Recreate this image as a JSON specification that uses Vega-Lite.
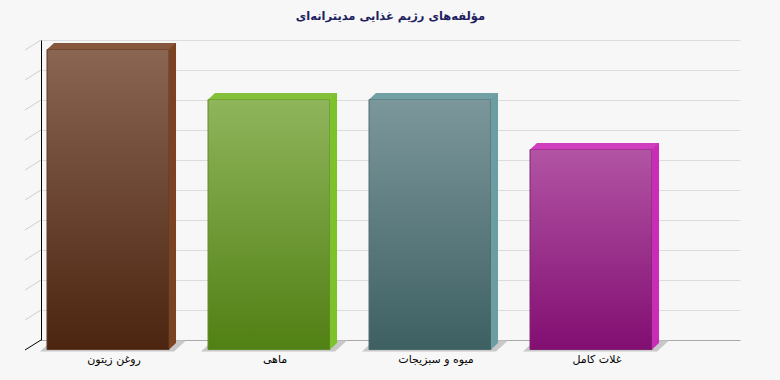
{
  "$schema": "https://vega.github.io/schema/vega-lite/v6.json",
  "width": 699,
  "height": 300,
  "autosize": {"type": "none"},
  "padding": {"left": 41, "top": 40, "right": 40, "bottom": 40},
  "background": "#f7f7f7",
  "config": {
    "view": {"stroke": null},
    "font": "DejaVu Sans",
    "axisY": {
      "grid": true,
      "gridColor": {"condition": {"test": "datum.value === 0", "value": "#a8a8a8"}, "value": "#dcdcdc"},
      "gridWidth": 1,
      "domain": true,
      "domainColor": "#000000",
      "domainWidth": 1,
      "ticks": false,
      "labels": false,
      "title": null
    }
  },
  "title": {
    "text": "مؤلفه‌های رژیم غذایی مدیترانه‌ای",
    "font": "DejaVu Sans",
    "fontSize": 11.5,
    "fontWeight": "bold",
    "color": "#1f1f5f",
    "anchor": "middle",
    "offset": 16
  },
  "datasets": {
    "bars": [
      {"name": "روغن زیتون", "value": 30},
      {"name": "ماهی", "value": 25},
      {"name": "میوه و سبزیجات", "value": 25},
      {"name": "غلات کامل", "value": 20}
    ],
    "grid": [
      {"v": 0}, {"v": 3}, {"v": 6}, {"v": 9}, {"v": 12}, {"v": 15},
      {"v": 18}, {"v": 21}, {"v": 24}, {"v": 27}, {"v": 30}
    ]
  },
  "layer": [
    {
      "data": {"name": "grid"},
      "mark": {"type": "point", "shape": "M0,0L-16,10", "size": 4, "filled": false, "opacity": 1, "strokeWidth": 1},
      "encoding": {
        "x": {"datum": 0, "type": "quantitative", "scale": {"domain": [0, 1]}, "axis": null},
        "y": {
          "field": "v",
          "type": "quantitative",
          "scale": {"domain": [0, 30], "nice": false},
          "axis": {"values": [0, 3, 6, 9, 12, 15, 18, 21, 24, 27, 30]}
        },
        "color": {"condition": {"test": "datum.v === 0", "value": "#000000"}, "value": "#cfcfcf"}
      }
    },
    {
      "data": {"name": "bars"},
      "encoding": {
        "x": {
          "field": "name",
          "type": "nominal",
          "sort": null,
          "scale": {"paddingInner": 0.2422, "paddingOuter": 0.2919, "align": 0.064},
          "axis": {
            "title": null,
            "domain": false,
            "ticks": false,
            "grid": false,
            "labelAngle": 0,
            "labelFont": "DejaVu Sans",
            "labelFontSize": 11,
            "labelColor": "#000000",
            "labelPadding": 13,
            "labelOffset": 6
          }
        }
      },
      "layer": [
        {
          "mark": {"type": "point", "shape": "M-68,11.5L66,11.5L78,0.5L-56,0.5Z", "size": 4, "filled": true, "opacity": 1, "strokeWidth": 0, "color": "#c8c8c8"},
          "encoding": {"y": {"datum": 0, "type": "quantitative", "axis": {"values": [0, 3, 6, 9, 12, 15, 18, 21, 24, 27, 30]}}}
        },
        {
          "transform": [{"filter": "datum.name === 'روغن زیتون'"}],
          "mark": {"type": "bar", "yOffset": 9.5, "y2Offset": 9.5, "stroke": "#5e3b27", "strokeWidth": 1,
            "color": {"gradient": "linear", "x1": 0, "y1": 0, "x2": 0, "y2": 1, "stops": [{"offset": 0, "color": "#8a6552"}, {"offset": 1, "color": "#4b2510"}]}},
          "encoding": {"y": {"field": "value", "type": "quantitative", "axis": {"values": [0, 3, 6, 9, 12, 15, 18, 21, 24, 27, 30]}}, "y2": {"datum": 0}}
        },
        {
          "transform": [{"filter": "datum.name === 'ماهی'"}],
          "mark": {"type": "bar", "yOffset": 9.5, "y2Offset": 9.5, "stroke": "#5f8c2a", "strokeWidth": 1,
            "color": {"gradient": "linear", "x1": 0, "y1": 0, "x2": 0, "y2": 1, "stops": [{"offset": 0, "color": "#8fb55b"}, {"offset": 1, "color": "#518014"}]}},
          "encoding": {"y": {"field": "value", "type": "quantitative", "axis": {"values": [0, 3, 6, 9, 12, 15, 18, 21, 24, 27, 30]}}, "y2": {"datum": 0}}
        },
        {
          "transform": [{"filter": "datum.name === 'میوه و سبزیجات'"}],
          "mark": {"type": "bar", "yOffset": 9.5, "y2Offset": 9.5, "stroke": "#4d6b6e", "strokeWidth": 1,
            "color": {"gradient": "linear", "x1": 0, "y1": 0, "x2": 0, "y2": 1, "stops": [{"offset": 0, "color": "#7c979b"}, {"offset": 1, "color": "#3e6063"}]}},
          "encoding": {"y": {"field": "value", "type": "quantitative", "axis": {"values": [0, 3, 6, 9, 12, 15, 18, 21, 24, 27, 30]}}, "y2": {"datum": 0}}
        },
        {
          "transform": [{"filter": "datum.name === 'غلات کامل'"}],
          "mark": {"type": "bar", "yOffset": 9.5, "y2Offset": 9.5, "stroke": "#7c2470", "strokeWidth": 1,
            "color": {"gradient": "linear", "x1": 0, "y1": 0, "x2": 0, "y2": 1, "stops": [{"offset": 0, "color": "#b254a4"}, {"offset": 1, "color": "#820e72"}]}},
          "encoding": {"y": {"field": "value", "type": "quantitative", "axis": {"values": [0, 3, 6, 9, 12, 15, 18, 21, 24, 27, 30]}}, "y2": {"datum": 0}}
        },
        {
          "mark": {"type": "bar", "width": 7, "xOffset": 64.5, "yOffset": 3, "y2Offset": 3},
          "encoding": {
            "y": {"field": "value", "type": "quantitative", "axis": {"values": [0, 3, 6, 9, 12, 15, 18, 21, 24, 27, 30]}},
            "y2": {"datum": 0},
            "fill": {"field": "name", "type": "nominal", "sort": null, "legend": null,
              "scale": {"range": ["#7b4322", "#7cc22b", "#6a9ea2", "#c92cb6"]}}
          }
        },
        {
          "mark": {"type": "point", "shape": "M61,3L68,3L61,9.5Z", "size": 4, "filled": true, "opacity": 1, "strokeWidth": 0},
          "encoding": {
            "y": {"datum": 0, "type": "quantitative", "axis": {"values": [0, 3, 6, 9, 12, 15, 18, 21, 24, 27, 30]}},
            "fill": {"field": "name", "type": "nominal", "sort": null, "legend": null}
          }
        },
        {
          "mark": {"type": "point", "shape": "M-61,9.5L61,9.5L68,3L-54,3Z", "size": 4, "filled": true, "opacity": 1, "strokeWidth": 0},
          "encoding": {
            "y": {"field": "value", "type": "quantitative", "axis": {"values": [0, 3, 6, 9, 12, 15, 18, 21, 24, 27, 30]}},
            "color": {"field": "name", "type": "nominal", "sort": null, "legend": null,
              "scale": {"range": ["#86573c", "#85c03a", "#72a0a4", "#cf3ebd"]}}
          }
        }
      ]
    }
  ],
  "resolve": {"scale": {"x": "independent"}}
}
